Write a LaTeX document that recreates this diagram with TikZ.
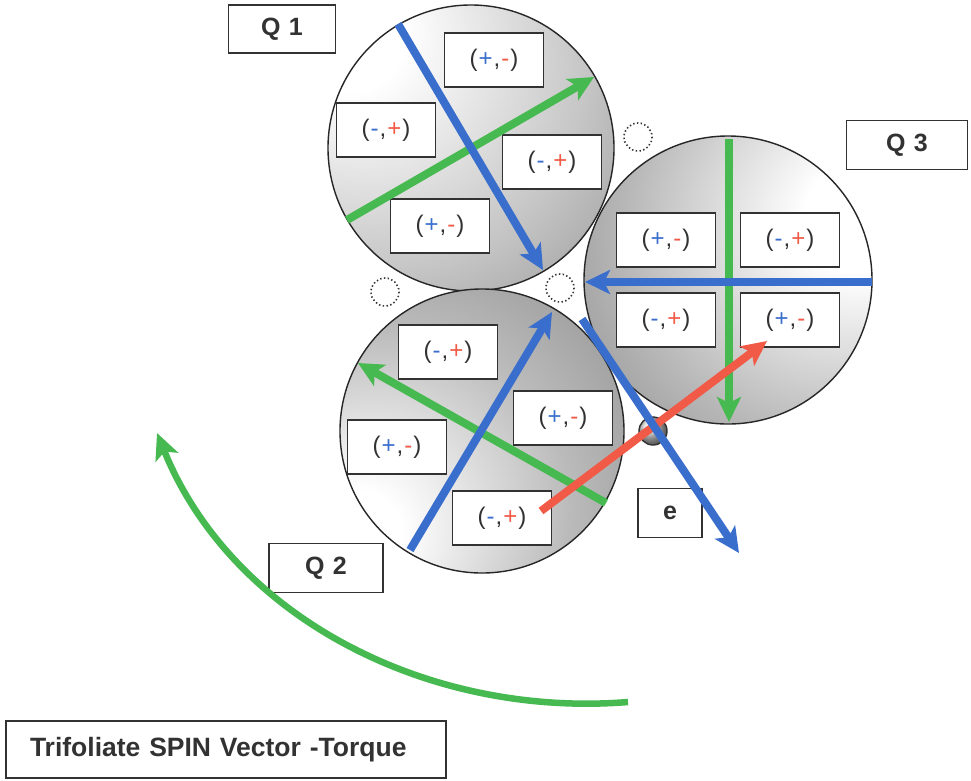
\documentclass[tikz,border=0pt]{standalone}
\usepackage{fontspec}
\setmainfont{Liberation Sans}
\usetikzlibrary{arrows.meta}
\definecolor{vblue}{RGB}{58,110,205}
\definecolor{vgreen}{RGB}{70,185,80}
\definecolor{vred}{RGB}{240,90,70}
\definecolor{dgray}{RGB}{50,50,50}
\pgfdeclareradialshading{ballQone}{\pgfpoint{-24bp}{22bp}}{color(0bp)=(white); color(10bp)=(white); color(35bp)=(black!22); color(60bp)=(black!47); color(100bp)=(black!62)}
\pgfdeclareradialshading{ballQthree}{\pgfpoint{26bp}{12bp}}{color(0bp)=(white); color(10bp)=(white); color(35bp)=(black!28); color(62bp)=(black!55); color(100bp)=(black!65)}
\pgfdeclareradialshading{ballQtwo}{\pgfpoint{-24bp}{-20bp}}{color(0bp)=(white); color(8bp)=(white); color(32bp)=(black!27); color(58bp)=(black!48); color(100bp)=(black!62)}
\newcommand\sgn[2]{\textcolor{dgray}{(}\kern1pt\textcolor{vblue}{#1}\kern1pt\textcolor{dgray}{,}\kern1pt\textcolor{vred}{#2}\kern1pt\textcolor{dgray}{)}}
\begin{document}
\begin{tikzpicture}[x=1pt,y=-1pt,
  sbox/.style={draw=dgray, line width=1.6pt, fill=white, minimum width=99pt, minimum height=54pt, inner sep=0pt, font=\fontsize{24}{27}\selectfont},
  qbox/.style={draw=dgray, line width=1.6pt, fill=white, minimum height=49pt, inner sep=0pt, text=dgray, font=\fontsize{25}{28}\selectfont\bfseries},
  vec/.style={line width=8pt, -{Stealth[length=25pt,width=24pt,inset=6pt]}},
  disc/.style={draw=black!85, line width=1.4pt},
  ghost/.style={draw=dgray, line width=1.6pt, dash pattern=on 1.4pt off 2.4pt}]
\useasboundingbox (0,0) rectangle (971,780);
\fill[white] (0,0) rectangle (971,780);
% discs
\shade[shading=ballQone, disc] (471,148) circle[radius=143];
\shade[shading=ballQtwo, disc] (482,431) circle[radius=142];
\shade[shading=ballQthree, disc] (728,280) circle[radius=144];
% dotted empty circles
\draw[ghost] (385,292) circle[radius=14];
\draw[ghost] (560,288) circle[radius=14];
\draw[ghost] (638,137) circle[radius=14];
% small ball
\shade[ball color=black!18, draw=dgray, line width=1.4pt] (653,431) circle[radius=14];
% Q1 boxes
\node[sbox] (q1a) at (494,60) {\sgn{+}{-}};
\node[sbox] (q1b) at (386,130) {\sgn{-}{+}};
\node[sbox] (q1c) at (552,162) {\sgn{-}{+}};
\node[sbox] (q1d) at (440,226) {\sgn{+}{-}};
% Q3 boxes
\node[sbox] (q3a) at (666,240) {\sgn{+}{-}};
\node[sbox] (q3b) at (790,240) {\sgn{-}{+}};
\node[sbox] (q3c) at (666,320) {\sgn{-}{+}};
\node[sbox] (q3d) at (790,320) {\sgn{+}{-}};
% Q2 boxes
\node[sbox] (q2a) at (448,352) {\sgn{-}{+}};
\node[sbox] (q2b) at (563,418) {\sgn{+}{-}};
\node[sbox] (q2c) at (397,447) {\sgn{+}{-}};
\node[sbox] (q2d) at (502,518) {\sgn{-}{+}};
% labels
\node[qbox, minimum width=107pt, minimum height=48pt] (lq1) at (282,29) {Q\,\,1};
\node[qbox, minimum width=121pt] (lq3) at (907,145) {Q\,\,3};
\node[qbox, minimum width=114pt] (lq2) at (326,568) {Q\,\,2};
\node[qbox, minimum width=64pt] (le) at (670,513) {e};
\node[draw=dgray, line width=1.6pt, fill=white, minimum height=57pt, inner xsep=24pt, inner ysep=0pt, text width=392pt, align=left, text=dgray, font=\fontsize{26.5}{30}\selectfont\bfseries] (title) at (226,749.5) {Trifoliate SPIN Vector -Torque};
% vector end points
\coordinate (a1s) at (347,220); \coordinate (a1e) at (594,77);
\coordinate (b1s) at (398,24);  \coordinate (b1e) at (543,270);
\coordinate (a3s) at (729,139); \coordinate (a3e) at (729,422);
\coordinate (b3s) at (872,282); \coordinate (b3e) at (585,282);
\coordinate (a2s) at (606,503); \coordinate (a2e) at (358,363);
\coordinate (b2s) at (410,550); \coordinate (b2e) at (552,312);
\coordinate (rs) at (541,511);  \coordinate (re) at (767,341);
\coordinate (ls) at (582,319);  \coordinate (le2) at (739,553);
\coordinate (ts) at (628,702);  \coordinate (te) at (157,433);
% vectors
\draw[vec, vgreen] (a1s) -- (a1e);
\draw[vec, vblue] (b1s) -- (b1e);
\draw[vec, vgreen] (a3s) -- (a3e);
\draw[vec, vblue] (b3s) -- (b3e);
\draw[vec, vgreen] (a2s) -- (a2e);
\draw[vec, vblue] (b2s) -- (b2e);
\draw[vec, vred] (rs) -- (re);
\draw[vec, vblue] (ls) -- (le2);
\draw[vgreen, line width=6.5pt, -{Stealth[length=26pt,width=24pt,inset=6pt]}] (ts) .. controls (429,718) and (232,618) .. (te);
\end{tikzpicture}
\end{document}
